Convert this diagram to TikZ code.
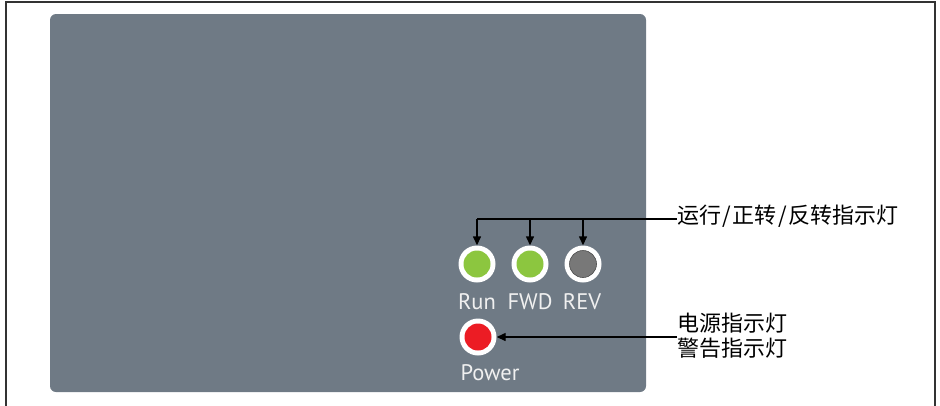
\documentclass[tikz,border=0pt]{standalone}
\usepackage{fontspec}
\setsansfont{PT Sans}
\newfontfamily\cjk{Noto Sans CJK SC}
\usetikzlibrary{arrows.meta}
\definecolor{panel}{HTML}{6F7A85}
\definecolor{ledgreen}{HTML}{8CC63F}
\definecolor{ledred}{HTML}{EC1C24}
\definecolor{ledgray}{HTML}{787878}
\definecolor{labelgray}{HTML}{F0F0F0}
\newcommand{\myslash}{\kern1.5pt/\kern1.5pt}
\tikzset{
  ledring/.style={circle, fill=white, minimum size=37pt, inner sep=0pt},
  ledcore/.style={circle, minimum size=27pt, inner sep=0pt},
  ledlabel/.style={font=\sffamily\fontsize{22.5}{22}\selectfont, text=labelgray, inner sep=0pt, anchor=base},
  callout/.style={font=\cjk\fontsize{22}{25}\selectfont, anchor=west, inner sep=0pt, align=left},
  conn/.style={line width=1.4pt, -{Triangle[length=9pt,width=8pt]}},
  wire/.style={line width=1.4pt}
}
\begin{document}
\begin{tikzpicture}[x=1pt,y=-1pt]
\useasboundingbox (0,0) rectangle (940,405);
\draw[line width=1.2pt, black!80] (6,406) -- (6,2) -- (935,2) -- (935,406);
\fill[panel, rounded corners=6pt] (50,14) rectangle (646,392);
% LEDs
\node[ledring] (runR) at (477,264) {};
\node[ledcore, fill=ledgreen] (run) at (477,264) {};
\node[ledring] (fwdR) at (530,264) {};
\node[ledcore, fill=ledgreen] (fwd) at (530,264) {};
\node[ledring] (revR) at (583,264) {};
\node[ledcore, fill=ledgray, draw=black!70, line width=0.6pt] (rev) at (583,264) {};
\node[ledring] (pwrR) at (478,337) {};
\node[ledcore, fill=ledred] (pwr) at (478,337) {};
\node[ledlabel] (runL) at (477,309) {Run};
\node[ledlabel] (fwdL) at (530,309) {FWD};
\node[ledlabel] (revL) at (582,309) {REV};
\node[ledlabel] (pwrL) at (490,380) {Power};
% callouts
\node[callout] (t1) at (677,216) {运行\myslash 正转\myslash 反转指示灯};
\node[callout] (t2) at (677,336) {电源指示灯\\警告指示灯};
\coordinate (j1) at (477,219);
\coordinate (j2) at (530,219);
\coordinate (j3) at (583,219);
\draw[wire] (t1.west |- j1) -- (j1);
\draw[conn] (j1) -- (runR.north);
\draw[conn] (j2) -- (fwdR.north);
\draw[conn] (j3) -- (revR.north);
\draw[conn] (t2.west |- pwrR) -- (pwrR.east);
\end{tikzpicture}
\end{document}
